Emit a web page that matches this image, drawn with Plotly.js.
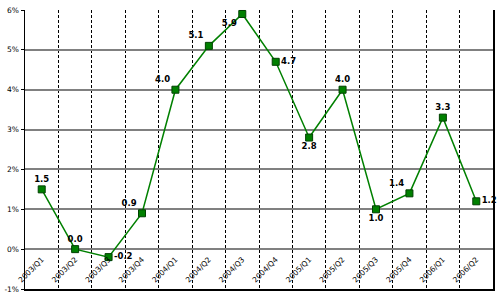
<!DOCTYPE html>
<html>
<head>
<meta charset="utf-8">
<script src="https://cdn.plot.ly/plotly-3.0.1.min.js"></script>
<style>html,body{margin:0;padding:0;background:#fff;}#chart{width:500px;height:299px;}</style>
</head>
<body>
<div id="chart"></div>
<script>
const quarters = ["2003/Q1","2003/Q2","2003/Q3","2003/Q4","2004/Q1","2004/Q2","2004/Q3","2004/Q4","2005/Q1","2005/Q2","2005/Q3","2005/Q4","2006/Q1","2006/Q2"];
const growth = [1.5, 0.0, -0.2, 0.9, 4.0, 5.1, 5.9, 4.7, 2.8, 4.0, 1.0, 1.4, 3.3, 1.2];
const labelPos = ["top center","top center","middle right","top left","top left","top left","bottom left","middle right","bottom center","top center","bottom center","top left","top center","middle right"];
const yTicks = [-1, 0, 1, 2, 3, 4, 5, 6];

const traces = [
  {
    x: quarters, y: growth, type: "scatter", mode: "lines+markers+text",
    line: {color: "#008000", width: 1.5},
    marker: {symbol: "square", size: 7, color: "#008000", line: {color: "#004000", width: 1}},
    text: growth.map(v => v.toFixed(1)),
    textposition: labelPos,
    textfont: {family: "DejaVu Sans, Verdana, sans-serif", size: 8.5, color: "#000", weight: "bold"},
    hoverinfo: "skip", cliponaxis: false
  },
  {
    x: quarters, y: growth, xaxis: "x2", type: "scatter", mode: "none",
    hoverinfo: "skip", showlegend: false
  }
];

const layout = {
  width: 500, height: 299,
  margin: {l: 25, r: 7, t: 10, b: 10},
  paper_bgcolor: "#fff", plot_bgcolor: "#fff",
  showlegend: false,
  xaxis: {
    type: "category", range: [-0.5, 13.5],
    showline: true, linecolor: "#000", linewidth: 1.5,
    tickson: "boundaries", showgrid: true, gridcolor: "#000", gridwidth: 1, griddash: "3px,2px",
    showticklabels: false, ticks: "", zeroline: false
  },
  xaxis2: {
    type: "category", range: [-0.5, 13.5], overlaying: "x", anchor: "free", position: 0.13,
    side: "bottom", tickangle: -45, showgrid: false, showline: false, ticks: "",
    tickfont: {family: "DejaVu Sans, Verdana, sans-serif", size: 7.5, color: "#000"}
  },
  yaxis: {
    range: [-1, 6], tickvals: yTicks, ticktext: yTicks.map(v => v + "%"),
    showline: true, linecolor: "#000", linewidth: 1.5, mirror: true,
    showgrid: true, gridcolor: "#808080", gridwidth: 2,
    ticks: "outside", ticklen: 3, tickcolor: "#000",
    zeroline: false,
    tickfont: {family: "DejaVu Sans, Verdana, sans-serif", size: 7.5, color: "#000"}
  }
};

Plotly.newPlot("chart", traces, layout, {displayModeBar: false, staticPlot: true});
</script>
</body>
</html>
